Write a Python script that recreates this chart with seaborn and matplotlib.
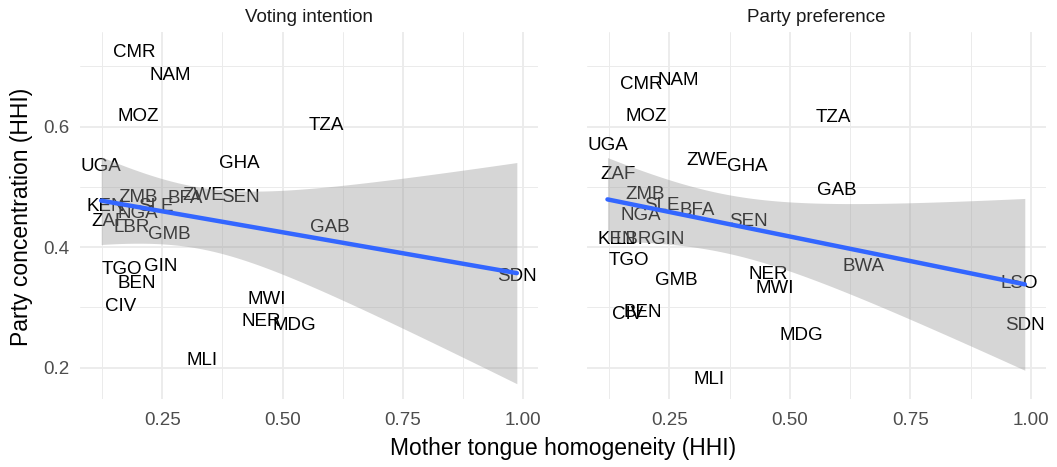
import numpy as np
import pandas as pd
import matplotlib
matplotlib.use("Agg")
import matplotlib.pyplot as plt
from matplotlib.ticker import MultipleLocator
from matplotlib.transforms import offset_copy
import seaborn as sns

# Voting intention panel
countries_vote = ["CMR", "NAM", "MOZ", "TZA", "UGA", "GHA", "ZMB", "BFA", "ZWE", "SEN",
                  "SLE", "KEN", "NGA", "ZAF", "LBR", "GMB", "GAB", "SDN", "TGO", "GIN",
                  "BEN", "CIV", "MWI", "NER", "MDG", "MLI"]
mt_vote = [0.191, 0.267, 0.201, 0.590, 0.123, 0.410, 0.200, 0.298, 0.336, 0.412,
           0.236, 0.132, 0.199, 0.139, 0.186, 0.265, 0.599, 0.987, 0.166, 0.247,
           0.196, 0.163, 0.468, 0.455, 0.524, 0.332]
pc_vote = [0.728, 0.690, 0.623, 0.607, 0.540, 0.545, 0.489, 0.486, 0.491, 0.489,
           0.473, 0.473, 0.462, 0.448, 0.438, 0.427, 0.439, 0.357, 0.369, 0.373,
           0.346, 0.307, 0.319, 0.282, 0.275, 0.217]

# Party preference panel
countries_pref = ["CMR", "NAM", "MOZ", "UGA", "ZAF", "ZWE", "GHA", "ZMB", "SLE", "BFA",
                  "NGA", "SEN", "KEN", "LBR", "GIN", "TGO", "GMB", "NER", "MWI", "CIV",
                  "BEN", "MDG", "MLI", "TZA", "GAB", "BWA", "LSO", "SDN"]
mt_pref = [0.193, 0.268, 0.202, 0.122, 0.144, 0.328, 0.411, 0.200, 0.235, 0.308,
           0.192, 0.414, 0.141, 0.177, 0.247, 0.167, 0.264, 0.455, 0.468, 0.164,
           0.195, 0.524, 0.332, 0.591, 0.598, 0.652, 0.976, 0.987]
pc_pref = [0.676, 0.683, 0.622, 0.575, 0.526, 0.549, 0.540, 0.493, 0.475, 0.467,
           0.459, 0.449, 0.418, 0.418, 0.418, 0.384, 0.350, 0.361, 0.337, 0.294,
           0.297, 0.259, 0.187, 0.621, 0.499, 0.374, 0.346, 0.276]

panel_titles = ["Voting intention", "Party preference"]
t_crit = {26: 2.0639, 28: 2.0555}  # 97.5% t quantiles for n-2 df

df_vote = pd.DataFrame({"country": countries_vote, "mt": mt_vote, "pc": pc_vote})
df_pref = pd.DataFrame({"country": countries_pref, "mt": mt_pref, "pc": pc_pref})

sns.set_theme(style="whitegrid")
plt.rcParams["font.family"] = ["Liberation Sans", "DejaVu Sans"]

fig = plt.figure(figsize=(10.57, 4.67), dpi=100)
ax1 = fig.add_axes([0.0757, 0.1456, 0.4333, 0.7859])
ax2 = fig.add_axes([0.5551, 0.1456, 0.4345, 0.7859])

for ax, d, titel in zip([ax1, ax2], [df_vote, df_pref], panel_titles):
    # Beschriftungen (unter dem Band), Großbuchstaben optisch zentriert
    trans = offset_copy(ax.transData, fig=fig, y=-3.5, units="dots")
    for _, r in d.iterrows():
        ax.text(r["mt"], r["pc"], r["country"], ha="center", va="center",
                fontsize=13.5, color="black", zorder=2, transform=trans)

    # Konfidenzband wie geom_smooth(method="lm")
    x = d["mt"].to_numpy()
    y = d["pc"].to_numpy()
    n = len(x)
    b, a = np.polyfit(x, y, 1)
    resid = y - (a + b * x)
    s = np.sqrt(np.sum(resid ** 2) / (n - 2))
    sxx = np.sum((x - x.mean()) ** 2)
    g = np.linspace(x.min(), x.max(), 200)
    se = s * np.sqrt(1 / n + (g - x.mean()) ** 2 / sxx)
    fit = a + b * g
    ax.fill_between(g, fit - t_crit[n] * se, fit + t_crit[n] * se,
                    color="#999999", alpha=0.4, lw=0, zorder=3)

    sns.regplot(data=d, x="mt", y="pc", ax=ax, scatter=False, ci=None,
                truncate=True, line_kws={"color": "#3366FF", "lw": 3.2, "zorder": 4})

    ax.set_xlim(0.079, 1.031)
    ax.set_ylim(0.148, 0.757)
    ax.xaxis.set_major_locator(MultipleLocator(0.25))
    ax.xaxis.set_minor_locator(MultipleLocator(0.125))
    ax.yaxis.set_major_locator(MultipleLocator(0.2))
    ax.yaxis.set_minor_locator(MultipleLocator(0.1))
    ax.set_xticks([0.25, 0.5, 0.75, 1.0])
    ax.set_xticklabels(["0.25", "0.50", "0.75", "1.00"])
    ax.grid(which="major", color="#EBEBEB", lw=1.3)
    ax.grid(which="minor", color="#EBEBEB", lw=0.7)
    ax.set_axisbelow(True)
    for sp in ax.spines.values():
        sp.set_visible(False)
    ax.tick_params(which="both", length=0, labelsize=13.5, labelcolor="#4D4D4D")
    ax.tick_params(axis="x", pad=9)
    ax.tick_params(axis="y", pad=7.5)
    ax.set_xlabel("")
    ax.set_ylabel("")
    ax.set_title(titel, fontsize=13.5, color="#1A1A1A", pad=7.5)

ax2.tick_params(axis="y", labelleft=False)
ax1.set_yticks([0.2, 0.4, 0.6])
ax1.set_yticklabels(["0.2", "0.4", "0.6"])

fig.text(0.5326, 0.039, "Mother tongue homogeneity (HHI)", ha="center", va="center",
         fontsize=16.5, color="black")
fig.text(0.020, 0.535, "Party concentration (HHI)", ha="center", va="center",
         rotation=90, fontsize=16.5, color="black")

fig.savefig("out.png", dpi=100)
